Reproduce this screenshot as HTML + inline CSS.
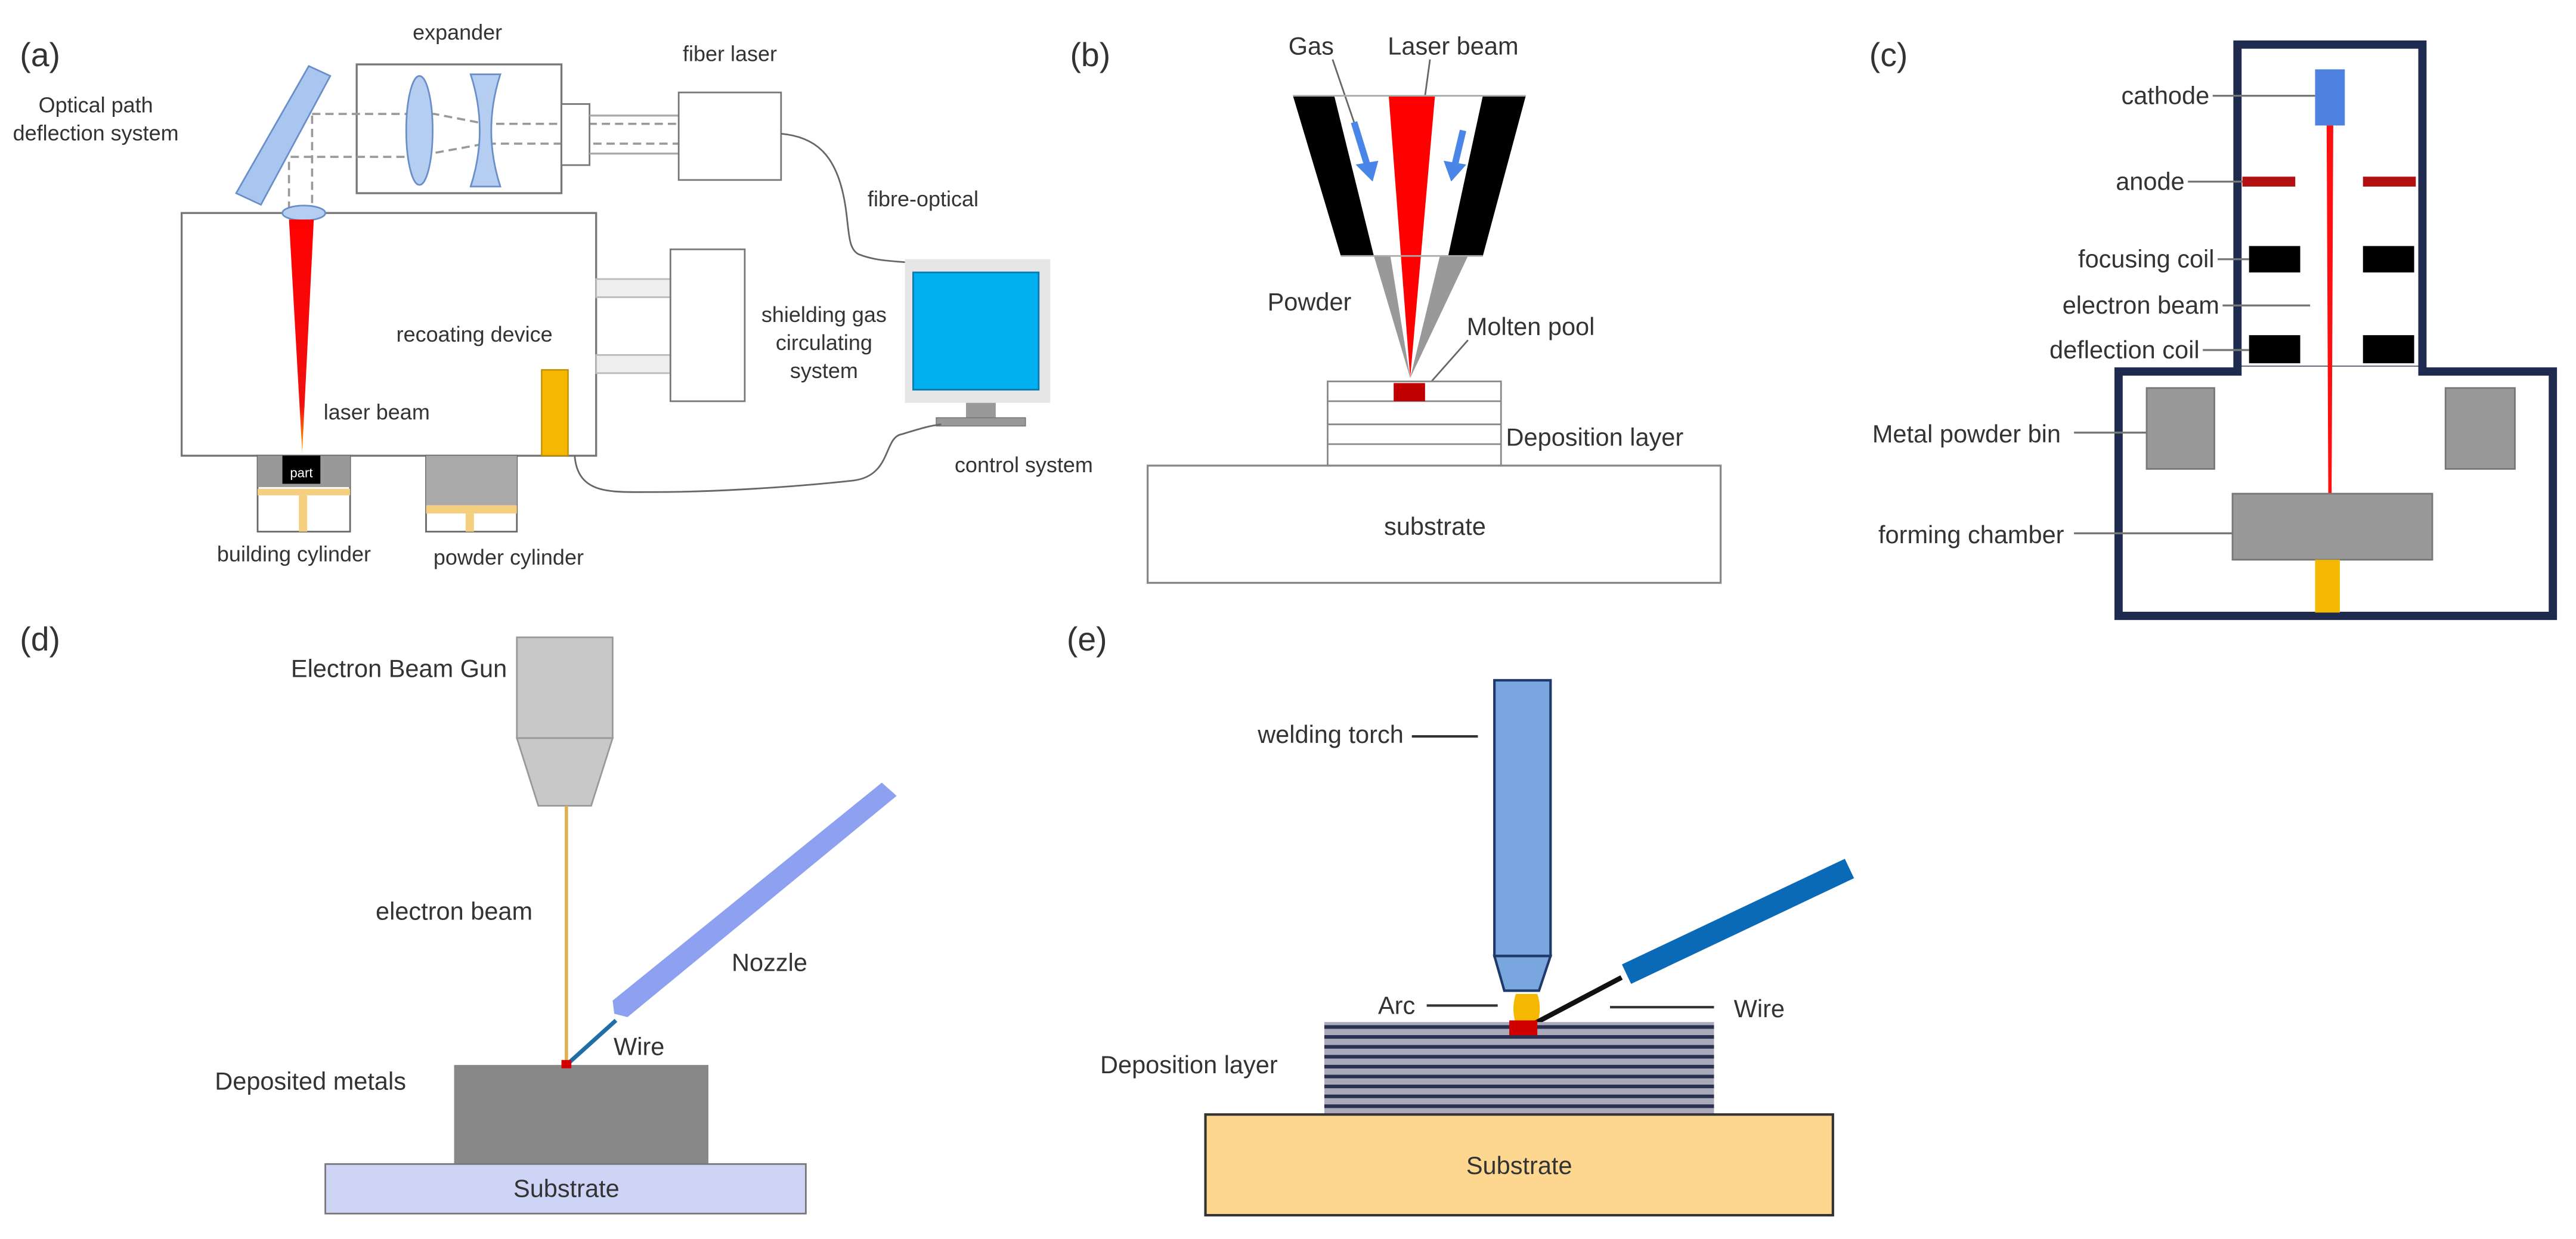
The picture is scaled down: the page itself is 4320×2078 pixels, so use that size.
<!DOCTYPE html>
<html><head><meta charset="utf-8"><style>
html,body{margin:0;padding:0;background:#fff}
svg{display:block}
text{font-family:"Liberation Sans",Arial,sans-serif;fill:#333}
</style></head><body>
<svg width="4320" height="2078" viewBox="0 0 1560 750.4" xmlns="http://www.w3.org/2000/svg">
<defs>
<linearGradient id="lz" x1="0" y1="0" x2="0" y2="1"><stop offset="0" stop-color="#ff0000"/><stop offset="0.8" stop-color="#f01010"/><stop offset="1" stop-color="#ffb000"/></linearGradient>
</defs>
<rect width="1560" height="750.4" fill="#fff"/>

<!-- (a) -->
<text x="12" y="40" font-size="20">(a)</text>
<text x="277" y="24" font-size="13" text-anchor="middle">expander</text>
<rect x="216" y="39" width="124" height="78" fill="#fff" stroke="#777" stroke-width="1.2"/>
<g stroke="#999" stroke-width="1.3" stroke-dasharray="5,3" fill="none">
<polyline points="189,69 263,69 294,75 411,75"/>
<polyline points="176,95 250,95 294,87 411,87"/>
<line x1="175" y1="98" x2="175" y2="126"/>
<line x1="189" y1="70" x2="189" y2="126"/>
</g>
<ellipse cx="254" cy="79" rx="8" ry="33" fill="#b4cdf0" stroke="#6a8fc8"/>
<path d="M285,45 L303,45 Q292,79 303,113 L285,113 Q296,79 285,45 Z" fill="#b4cdf0" stroke="#6a8fc8"/>
<rect x="340" y="63" width="17" height="37" fill="#fff" stroke="#777"/>
<g stroke="#aaa" stroke-width="1.2"><line x1="357" y1="70" x2="411" y2="70"/><line x1="357" y1="93" x2="411" y2="93"/></g>
<rect x="411" y="56" width="62" height="53" fill="#fff" stroke="#777"/>
<text x="442" y="37" font-size="13" text-anchor="middle">fiber laser</text>
<polygon points="187,40 200,46 158,124 143,117" fill="#a9c6f0" stroke="#6a8fc8"/>
<text x="58" y="68" font-size="13" text-anchor="middle">Optical path</text>
<text x="58" y="85" font-size="13" text-anchor="middle">deflection system</text>
<rect x="110" y="129" width="251" height="147" fill="#fff" stroke="#777" stroke-width="1.2"/>
<ellipse cx="184" cy="129" rx="13" ry="4.5" fill="#b4cdf0" stroke="#6a8fc8"/>
<polygon points="175,133 190,133 183,274" fill="url(#lz)"/>
<text x="196" y="254" font-size="13">laser beam</text>
<text x="240" y="207" font-size="13">recoating device</text>
<rect x="328" y="224" width="16" height="52" fill="#f5b800" stroke="#c08a00" stroke-width="0.8"/>
<g fill="#eee" stroke="#bbb"><rect x="361" y="169" width="45" height="11"/><rect x="361" y="215" width="45" height="11"/></g>
<rect x="406" y="151" width="45" height="92" fill="#fff" stroke="#777"/>
<text x="499" y="195" font-size="13" text-anchor="middle">shielding gas</text>
<text x="499" y="212" font-size="13" text-anchor="middle">circulating</text>
<text x="499" y="229" font-size="13" text-anchor="middle">system</text>
<path d="M473,81 C495,83 505,95 510,115 C515,135 512,150 520,154 C530,158 540,158 550,159" fill="none" stroke="#666" stroke-width="1"/>
<text x="559" y="125" font-size="13" text-anchor="middle">fibre-optical</text>
<rect x="548" y="157" width="88" height="87" fill="#e6e6e6"/>
<rect x="553" y="165" width="76" height="71" fill="#00b0f0" stroke="#0a7ab0"/>
<rect x="585" y="244" width="18" height="9" fill="#999"/>
<rect x="567" y="253" width="54" height="5" fill="#999" stroke="#777" stroke-width="0.6"/>
<text x="620" y="286" font-size="13" text-anchor="middle">control system</text>
<path d="M348,276 C350,300 370,298 396,298 C440,298 490,294 517,291 C540,288 535,265 546,263 C556,260 562,258 570,257" fill="none" stroke="#666" stroke-width="1"/>
<rect x="156" y="276" width="56" height="46" fill="#fff" stroke="#666"/>
<rect x="156" y="276" width="56" height="19" fill="#999"/>
<rect x="171" y="276" width="23" height="17" fill="#000"/>
<text x="182.5" y="289" font-size="8" fill="#fff" text-anchor="middle" style="fill:#fff">part</text>
<rect x="156" y="296" width="56" height="4" fill="#f5cf80"/>
<rect x="181" y="300" width="5" height="22" fill="#f5cf80"/>
<text x="178" y="340" font-size="13" text-anchor="middle">building cylinder</text>
<rect x="258" y="276" width="55" height="46" fill="#fff" stroke="#666"/>
<rect x="258" y="276" width="55" height="30" fill="#aaa"/>
<rect x="258" y="306" width="55" height="5" fill="#f5cf80"/>
<rect x="282" y="311" width="5" height="11" fill="#f5cf80"/>
<text x="308" y="342" font-size="13" text-anchor="middle">powder cylinder</text>

<!-- (b) -->
<text x="648" y="40" font-size="20">(b)</text>
<text x="794" y="33" font-size="15" text-anchor="middle">Gas</text>
<text x="880" y="33" font-size="15" text-anchor="middle">Laser beam</text>
<line x1="807" y1="36" x2="820" y2="74" stroke="#666"/>
<line x1="866" y1="36" x2="863" y2="58" stroke="#666"/>
<polygon points="841,58 869,58 854,229" fill="#ff0000"/>
<polygon points="832,155 842,155 854,229" fill="#999"/>
<polygon points="872,155 889,155 854,229" fill="#999"/>
<polygon points="783,58 808,58 832,155 812,155" fill="#000"/>
<polygon points="898,58 924,58 898,155 877,155" fill="#000"/>
<line x1="783" y1="58" x2="924" y2="58" stroke="#aaa"/>
<line x1="812" y1="155" x2="898" y2="155" stroke="#aaa"/>
<g stroke="#4a86e8" stroke-width="4" fill="#4a86e8">
<line x1="820" y1="74" x2="828" y2="100"/><polygon points="822,100 834,98 831,109" stroke-width="1"/>
<line x1="886" y1="79" x2="881" y2="100"/><polygon points="875,98 887,100 879,109" stroke-width="1"/>
</g>
<text x="793" y="188" font-size="15" text-anchor="middle">Powder</text>
<text x="927" y="203" font-size="15" text-anchor="middle">Molten pool</text>
<line x1="889" y1="206" x2="866" y2="232" stroke="#666"/>
<rect x="804" y="231" width="105" height="51" fill="#fff" stroke="#888"/>
<g stroke="#888"><line x1="804" y1="243" x2="909" y2="243"/><line x1="804" y1="257" x2="909" y2="257"/><line x1="804" y1="269" x2="909" y2="269"/></g>
<rect x="844" y="232" width="19" height="11" fill="#c00000"/>
<text x="912" y="270" font-size="15">Deposition layer</text>
<rect x="695" y="282" width="347" height="71" fill="#fff" stroke="#888" stroke-width="1.2"/>
<text x="869" y="324" font-size="15" text-anchor="middle">substrate</text>

<!-- (c) -->
<text x="1132" y="40" font-size="20">(c)</text>
<rect x="1355" y="27" width="112" height="197" fill="#fff" stroke="#1f2a4f" stroke-width="5"/>
<rect x="1283" y="225" width="263" height="148" fill="#fff" stroke="#1f2a4f" stroke-width="5"/>
<rect x="1357.5" y="222" width="107" height="6" fill="#fff"/>
<rect x="1402" y="42" width="18" height="34" fill="#4f81e0"/>
<polygon points="1409,76 1413,76 1412,300 1410,300" fill="#ff1010"/>
<rect x="1358" y="107" width="32" height="6" fill="#b01010"/>
<rect x="1431" y="107" width="32" height="6" fill="#b01010"/>
<rect x="1362" y="149" width="31" height="16" fill="#000"/>
<rect x="1431" y="149" width="31" height="16" fill="#000"/>
<rect x="1362" y="203" width="31" height="17" fill="#000"/>
<rect x="1431" y="203" width="31" height="17" fill="#000"/>
<g stroke="#777" stroke-width="1.2">
<line x1="1340" y1="58" x2="1402" y2="58"/>
<line x1="1325" y1="110" x2="1358" y2="110"/>
<line x1="1343" y1="157" x2="1362" y2="157"/>
<line x1="1346" y1="185" x2="1399" y2="185"/>
<line x1="1334" y1="212" x2="1362" y2="212"/>
<line x1="1256" y1="262" x2="1300" y2="262"/>
<line x1="1256" y1="323" x2="1352" y2="323"/>
</g>
<g font-size="15" text-anchor="end">
<text x="1338" y="63">cathode</text>
<text x="1323" y="115">anode</text>
<text x="1341" y="162">focusing coil</text>
<text x="1344" y="190">electron beam</text>
<text x="1332" y="217">deflection coil</text>
<text x="1248" y="268">Metal powder bin</text>
<text x="1250" y="329">forming chamber</text>
</g>
<rect x="1300" y="235" width="41" height="49" fill="#999" stroke="#777"/>
<rect x="1481" y="235" width="42" height="49" fill="#999" stroke="#777"/>
<rect x="1352" y="299" width="121" height="40" fill="#999" stroke="#777"/>
<rect x="1402" y="339" width="15" height="32" fill="#f5b800"/>

<!-- (d) -->
<text x="12" y="394" font-size="20">(d)</text>
<rect x="313" y="386" width="58" height="61" fill="#c8c8c8" stroke="#999"/>
<polygon points="313,447 371,447 358,488 326,488" fill="#c8c8c8" stroke="#999"/>
<text x="307" y="410" font-size="15" text-anchor="end">Electron Beam Gun</text>
<line x1="343" y1="488" x2="343" y2="645" stroke="#e0b050" stroke-width="2"/>
<text x="275" y="557" font-size="15" text-anchor="middle">electron beam</text>
<line x1="373" y1="618" x2="343" y2="645" stroke="#1f6ea8" stroke-width="2.5"/>
<polygon points="534,474 543,482 380,616 372,614 371,606" fill="#8ea0f0"/>
<text x="466" y="588" font-size="15" text-anchor="middle">Nozzle</text>
<text x="387" y="639" font-size="15" text-anchor="middle">Wire</text>
<rect x="275" y="645" width="154" height="60" fill="#888"/>
<rect x="340" y="642" width="6" height="5" fill="#d00000"/>
<text x="188" y="660" font-size="15" text-anchor="middle">Deposited metals</text>
<rect x="197" y="705" width="291" height="30" fill="#cdd4f5" stroke="#777"/>
<text x="343" y="725" font-size="15" text-anchor="middle">Substrate</text>

<!-- (e) -->
<text x="646" y="394" font-size="20">(e)</text>
<rect x="905" y="412" width="34" height="167" fill="#7aa6e0" stroke="#1f3a6a" stroke-width="1.5"/>
<polygon points="905,579 939,579 932,600 911,600" fill="#7aa6e0" stroke="#1f3a6a" stroke-width="1.5"/>
<text x="850" y="450" font-size="15" text-anchor="end">welding torch</text>
<line x1="855" y1="446" x2="895" y2="446" stroke="#333" stroke-width="1.5"/>
<path d="M918,602 L931,602 Q934,611 931,620 L918,620 Q915,611 918,602 Z" fill="#f5b800"/>
<line x1="929" y1="620" x2="982" y2="592" stroke="#111" stroke-width="3"/>
<line x1="985" y1="590" x2="1120" y2="526" stroke="#0a6ab8" stroke-width="13"/>
<text x="857" y="614" font-size="15" text-anchor="end">Arc</text>
<line x1="864" y1="609" x2="907" y2="609" stroke="#333" stroke-width="1.5"/>
<line x1="975" y1="610" x2="1038" y2="610" stroke="#333" stroke-width="1.5"/>
<text x="1050" y="616" font-size="15">Wire</text>
<rect x="802" y="619" width="236" height="56" fill="#aab"/>
<g stroke="#2a3050" stroke-width="2.2">
<line x1="802" y1="622" x2="1038" y2="622"/><line x1="802" y1="628" x2="1038" y2="628"/>
<line x1="802" y1="634" x2="1038" y2="634"/><line x1="802" y1="640" x2="1038" y2="640"/>
<line x1="802" y1="646" x2="1038" y2="646"/><line x1="802" y1="652" x2="1038" y2="652"/>
<line x1="802" y1="658" x2="1038" y2="658"/><line x1="802" y1="664" x2="1038" y2="664"/>
<line x1="802" y1="670" x2="1038" y2="670"/>
</g>
<rect x="914" y="618" width="17" height="9" fill="#d00000"/>
<text x="720" y="650" font-size="15" text-anchor="middle">Deposition layer</text>
<rect x="730" y="675" width="380" height="61" fill="#fdd78f" stroke="#333" stroke-width="1.5"/>
<text x="920" y="711" font-size="15" text-anchor="middle">Substrate</text>
</svg>
</body></html>
